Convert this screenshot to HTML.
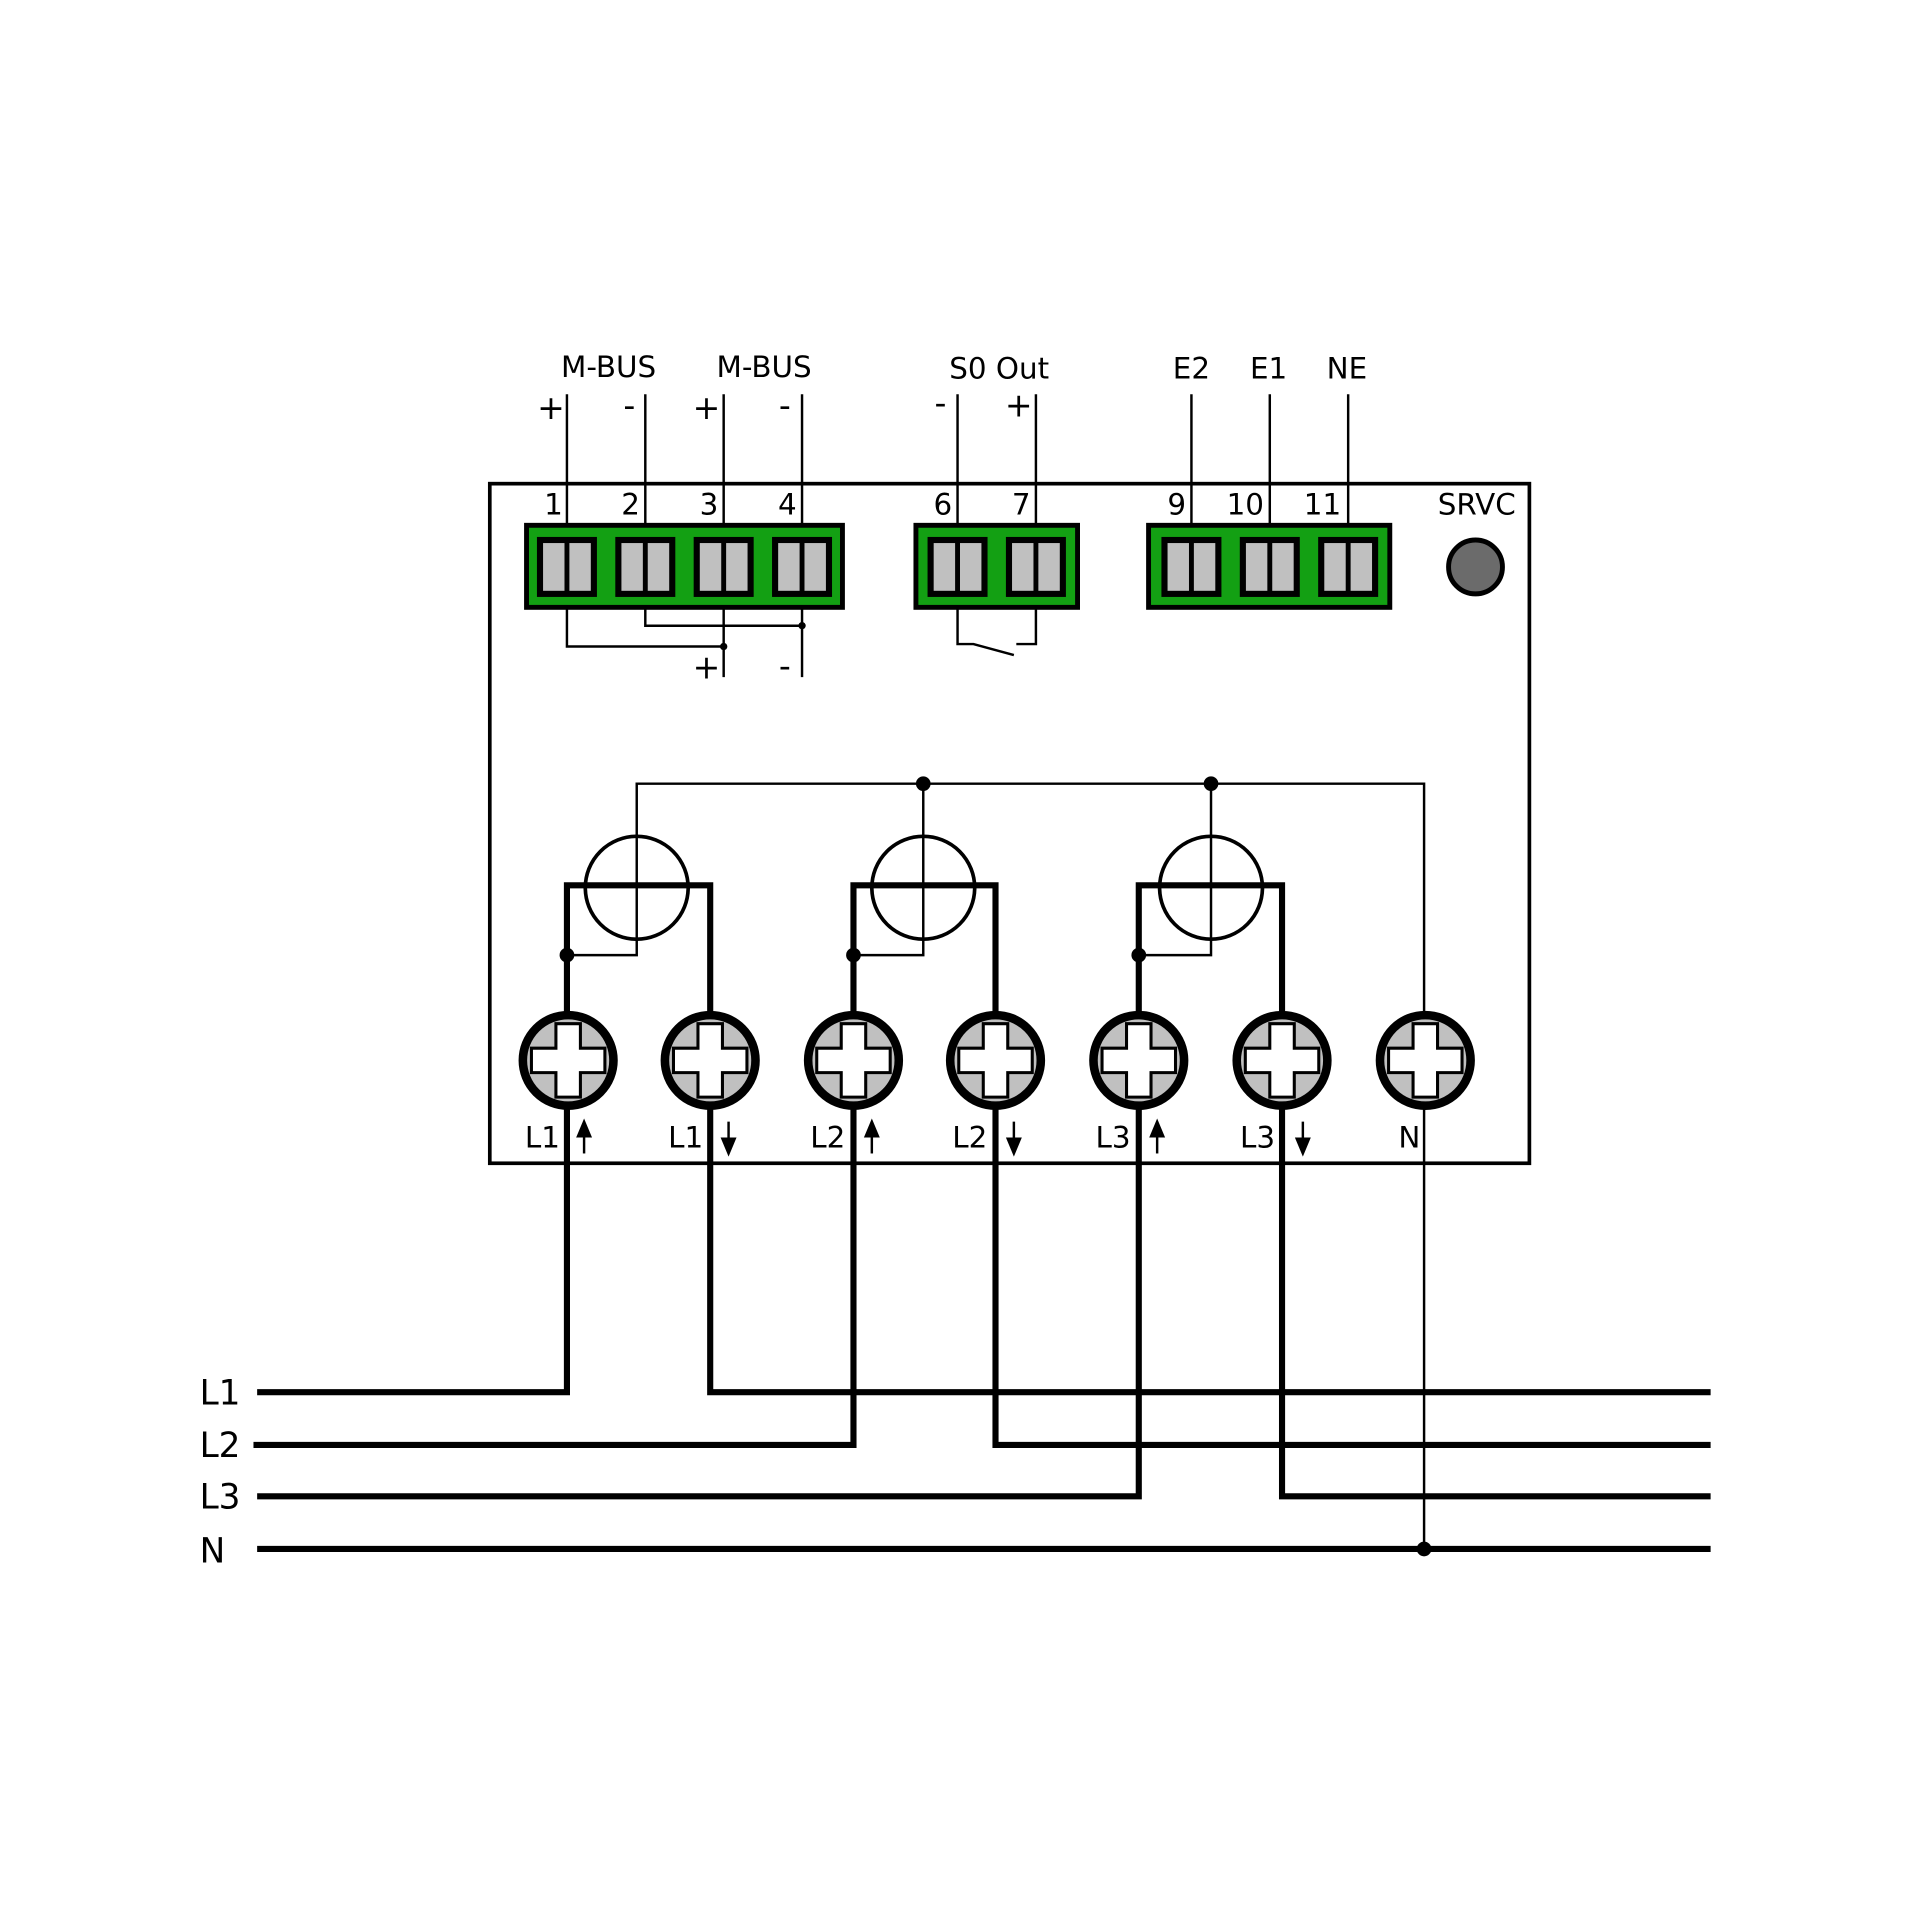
<!DOCTYPE html>
<html><head><meta charset="utf-8"><style>html,body{margin:0;padding:0;background:#fff}svg{display:block}</style></head>
<body>
<svg width="1920" height="1920" viewBox="0 0 1568 1568" xmlns="http://www.w3.org/2000/svg" font-family="'DejaVu Sans','Liberation Sans',sans-serif" font-size="24" fill="#000">
<defs>
<g id="term"><rect x="-22" y="-22" width="44" height="44" fill="#c0c0c0" stroke="#000" stroke-width="5"/><line x1="0" y1="-22" x2="0" y2="22" stroke="#000" stroke-width="4"/></g>
<g id="screw"><circle r="37" fill="#c0c0c0" stroke="#000" stroke-width="7"/><path d="M-10,-30 H10 V-10 H30 V10 H10 V30 H-10 V10 H-30 V-10 H-10 Z" fill="#fff" stroke="#000" stroke-width="2.5"/></g>
</defs>
<rect width="1568" height="1568" fill="#fff"/>
<g stroke="#000" stroke-width="2" fill="none">
<line x1="463" y1="322" x2="463" y2="430"/><line x1="527" y1="322" x2="527" y2="430"/><line x1="591" y1="322" x2="591" y2="430"/><line x1="655" y1="322" x2="655" y2="430"/>
<line x1="782" y1="322" x2="782" y2="430"/><line x1="846" y1="322" x2="846" y2="430"/>
<line x1="973" y1="322" x2="973" y2="430"/><line x1="1037" y1="322" x2="1037" y2="430"/><line x1="1101" y1="322" x2="1101" y2="430"/>
<polyline points="463,496 463,528 591,528"/><polyline points="527,496 527,511 655,511"/>
<line x1="591" y1="496" x2="591" y2="553"/><line x1="655" y1="496" x2="655" y2="553"/>
<polyline points="782,496 782,526 795,526 828,535"/><polyline points="830,526 846,526 846,496"/>
<polyline points="463,780 520,780 520,640 1163,640 1163,1265"/>
<polyline points="697,780 754,780 754,640"/><polyline points="930,780 989,780 989,640"/>
</g>
<rect x="400" y="395" width="849" height="555" fill="none" stroke="#000" stroke-width="3"/>
<g stroke="#000" stroke-width="4" fill="#13a013">
<rect x="430" y="429" width="258" height="67"/><rect x="748" y="429" width="132" height="67"/><rect x="938" y="429" width="197" height="67"/>
</g>
<use href="#term" x="463" y="463"/><use href="#term" x="527" y="463"/><use href="#term" x="591" y="463"/><use href="#term" x="655" y="463"/>
<use href="#term" x="782" y="463"/><use href="#term" x="846" y="463"/>
<use href="#term" x="973" y="463"/><use href="#term" x="1037" y="463"/><use href="#term" x="1101" y="463"/>
<circle cx="1205" cy="463" r="22" fill="#6b6b6b" stroke="#000" stroke-width="4"/>
<circle cx="591" cy="528" r="3"/><circle cx="655" cy="511" r="3"/>
<g fill="none" stroke="#000" stroke-width="3"><circle cx="520" cy="725" r="42"/><circle cx="754" cy="725" r="42"/><circle cx="989" cy="725" r="42"/></g>
<g fill="none" stroke="#000" stroke-width="5">
<polyline points="210,1137 463,1137 463,723 580,723 580,1137 1397,1137"/>
<polyline points="207,1180 697,1180 697,723 813,723 813,1180 1397,1180"/>
<polyline points="210,1222 930,1222 930,723 1047,723 1047,1222 1397,1222"/>
<line x1="210" y1="1265" x2="1397" y2="1265"/>
</g>
<g><circle cx="754" cy="640" r="6"/><circle cx="989" cy="640" r="6"/><circle cx="463" cy="780" r="6"/><circle cx="697" cy="780" r="6"/><circle cx="930" cy="780" r="6"/><circle cx="1163" cy="1265" r="6"/></g>
<use href="#screw" x="464" y="866"/><use href="#screw" x="580" y="866"/><use href="#screw" x="697" y="866"/><use href="#screw" x="813" y="866"/><use href="#screw" x="930" y="866"/><use href="#screw" x="1047" y="866"/><use href="#screw" x="1164" y="866"/>
<g stroke="#000" stroke-width="2" fill="#000">
<line x1="477" y1="942" x2="477" y2="925"/><path d="M472,928 L477,916 L482,928Z"/>
<line x1="595" y1="916" x2="595" y2="933"/><path d="M590,930 L595,942 L600,930Z"/>
<line x1="712" y1="942" x2="712" y2="925"/><path d="M707,928 L712,916 L717,928Z"/>
<line x1="828" y1="916" x2="828" y2="933"/><path d="M823,930 L828,942 L833,930Z"/>
<line x1="945" y1="942" x2="945" y2="925"/><path d="M940,928 L945,916 L950,928Z"/>
<line x1="1064" y1="916" x2="1064" y2="933"/><path d="M1059,930 L1064,942 L1069,930Z"/>
</g>
<g text-anchor="middle">
<text x="497" y="308">M-BUS</text><text x="624" y="308">M-BUS</text><text x="816" y="309">S0 Out</text>
<text x="973" y="309">E2</text><text x="1036" y="309">E1</text><text x="1100" y="309">NE</text>
<text x="450" y="342" font-size="27">+</text><text x="514" y="340" font-size="27">-</text><text x="577" y="342" font-size="27">+</text><text x="641" y="340" font-size="27">-</text>
<text x="768" y="338" font-size="27">-</text><text x="832" y="340" font-size="27">+</text>
<text x="577" y="554" font-size="27">+</text><text x="641" y="553" font-size="27">-</text>
<text x="452" y="420">1</text><text x="515" y="420">2</text><text x="579" y="420">3</text><text x="643" y="420">4</text>
<text x="770" y="420">6</text><text x="834" y="420">7</text>
<text x="961" y="420">9</text><text x="1017" y="420">10</text><text x="1080" y="420">11</text>
<text x="1206" y="420">SRVC</text>
<text x="443" y="937">L1</text><text x="560" y="937">L1</text><text x="676" y="937">L2</text><text x="792" y="937">L2</text><text x="909" y="937">L3</text><text x="1027" y="937">L3</text><text x="1151" y="937">N</text>
</g>
<g font-size="28"><text x="163" y="1147">L1</text><text x="163" y="1190">L2</text><text x="163" y="1232">L3</text><text x="163" y="1276">N</text></g>
</svg>
</body></html>
